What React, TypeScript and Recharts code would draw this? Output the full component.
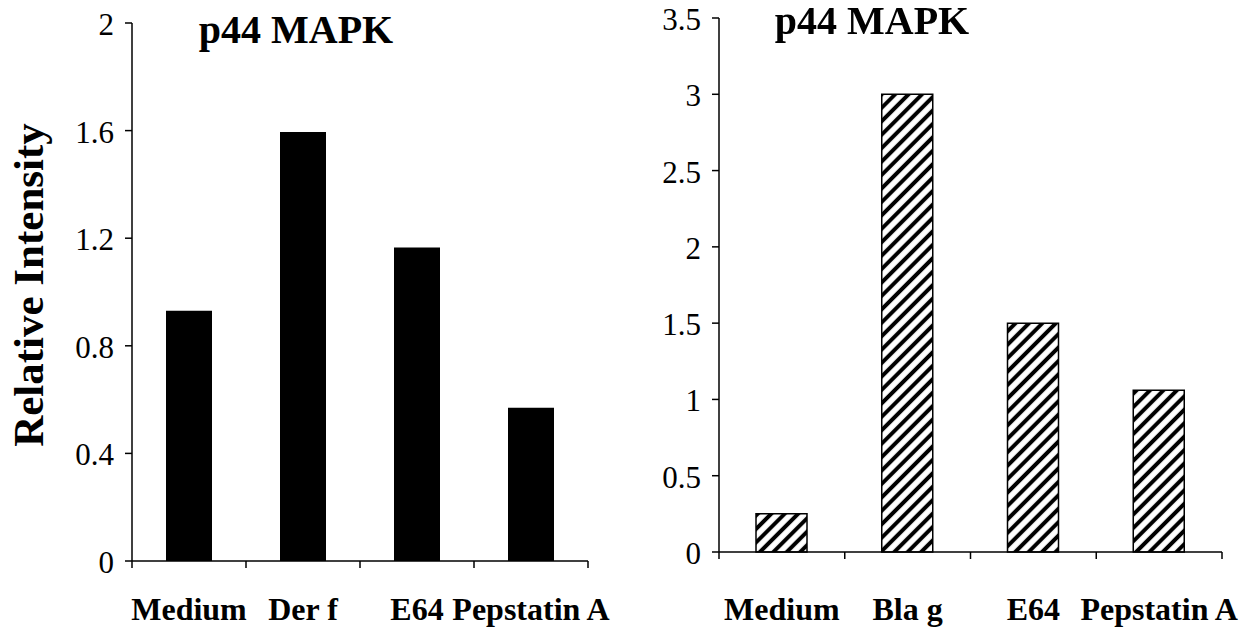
import React from "react";
import { BarChart, Bar, XAxis, YAxis, Label } from "recharts";

// left panel: Der f
const derCategories = ["Medium", "Der f", "E64", "Pepstatin A"];
const derValues = [0.93, 1.595, 1.165, 0.57];
const derTicks = [0, 0.4, 0.8, 1.2, 1.6, 2];

// right panel: Bla g
const blaCategories = ["Medium", "Bla g", "E64", "Pepstatin A"];
const blaValues = [0.25, 3.0, 1.5, 1.06];
const blaTicks = [0, 0.5, 1, 1.5, 2, 2.5, 3, 3.5];

const FONT = "Liberation Serif";

const derData = derCategories.map((name, i) => ({ name, value: derValues[i] }));
const blaData = blaCategories.map((name, i) => ({ name, value: blaValues[i] }));

// category label + tick marks on the band boundaries
function BoundaryTick(props: any) {
  const { x, y, payload, labelDy, count } = props;
  const half = payload?.offset ?? 0;
  const last = payload?.index === count - 1;
  return (
    <g>
      <line x1={x - half} x2={x - half} y1={y} y2={y + 7} stroke="#000" strokeWidth={1.5} />
      {last && (
        <line x1={x + half} x2={x + half} y1={y} y2={y + 7} stroke="#000" strokeWidth={1.5} />
      )}
      <text
        x={x}
        y={y + labelDy}
        textAnchor="middle"
        fontFamily={FONT}
        fontWeight="bold"
        fontSize={32}
        fill="#000"
      >
        {payload.value}
      </text>
    </g>
  );
}

function ValueTick(props: any) {
  const { x, y, payload } = props;
  return (
    <g>
      <text
        x={x}
        y={y + 12}
        textAnchor="end"
        fontFamily={FONT}
        fontSize={31}
        fill="#000"
      >
        {String(payload.value)}
      </text>
    </g>
  );
}

const titleStyle: React.CSSProperties = {
  position: "absolute",
  fontFamily: FONT,
  fontWeight: "bold",
  fontSize: 40,
  lineHeight: "40px",
  whiteSpace: "nowrap",
  transform: "translateX(-50%)",
};

export default function App() {
  return (
    <div style={{ position: "fixed", left: 0, top: 0, width: 1241, height: 628, background: "#fff" }}>
      <svg width={0} height={0} style={{ position: "absolute" }}>
        <defs>
          <pattern
            id="hatch"
            patternUnits="userSpaceOnUse"
            width={9.5}
            height={9.5}
            patternTransform="rotate(45)"
          >
            <rect width={9.5} height={9.5} fill="#fff" />
            <line x1={4.75} y1={0} x2={4.75} y2={9.5} stroke="#000" strokeWidth={4} />
          </pattern>
        </defs>
      </svg>

      <div style={{ position: "absolute", left: 0, top: 0 }}>
        <BarChart
          width={620}
          height={628}
          data={derData}
          margin={{ top: 23, right: 32, bottom: 0, left: 0 }}
          barCategoryGap={0}
        >
          <XAxis
            dataKey="name"
            height={67}
            axisLine={{ stroke: "#000", strokeWidth: 1.5 }}
            tickLine={false}
            tickSize={0}
            tickMargin={0}
            interval={0}
            tick={(p: any) => <BoundaryTick {...p} labelDy={59} count={derCategories.length} />}
          />
          <YAxis
            width={132}
            domain={[0, 2]}
            ticks={derTicks}
            axisLine={{ stroke: "#000", strokeWidth: 1.5 }}
            tickLine={{ stroke: "#000", strokeWidth: 1.5 }}
            tickSize={7}
            tickMargin={11}
            tick={(p: any) => <ValueTick {...p} />}
          >
            <Label
              content={() => (
                <text
                  x={43}
                  y={285}
                  transform="rotate(-90 43 285)"
                  textAnchor="middle"
                  fontFamily={FONT}
                  fontWeight="bold"
                  fontSize={43}
                  fill="#000"
                >
                  Relative Intensity
                </text>
              )}
            />
          </YAxis>
          <Bar dataKey="value" fill="#000" barSize={46} isAnimationActive={false} />
        </BarChart>
      </div>
      <div style={{ ...titleStyle, left: 296, top: 10 }}>p44 MAPK</div>

      <div style={{ position: "absolute", left: 620, top: 0 }}>
        <BarChart
          width={621}
          height={628}
          data={blaData}
          margin={{ top: 18, right: 19, bottom: 0, left: 0 }}
          barCategoryGap={0}
        >
          <XAxis
            dataKey="name"
            height={76}
            axisLine={{ stroke: "#000", strokeWidth: 1.5 }}
            tickLine={false}
            tickSize={0}
            tickMargin={0}
            interval={0}
            tick={(p: any) => <BoundaryTick {...p} labelDy={68} count={blaCategories.length} />}
          />
          <YAxis
            width={99}
            domain={[0, 3.5]}
            ticks={blaTicks}
            axisLine={{ stroke: "#000", strokeWidth: 1.5 }}
            tickLine={{ stroke: "#000", strokeWidth: 1.5 }}
            tickSize={7}
            tickMargin={11}
            tick={(p: any) => <ValueTick {...p} />}
          />
          <Bar
            dataKey="value"
            fill="url(#hatch)"
            stroke="#000"
            strokeWidth={1.5}
            barSize={51}
            isAnimationActive={false}
          />
        </BarChart>
      </div>
      <div style={{ ...titleStyle, left: 872, top: 1 }}>p44 MAPK</div>
    </div>
  );
}
